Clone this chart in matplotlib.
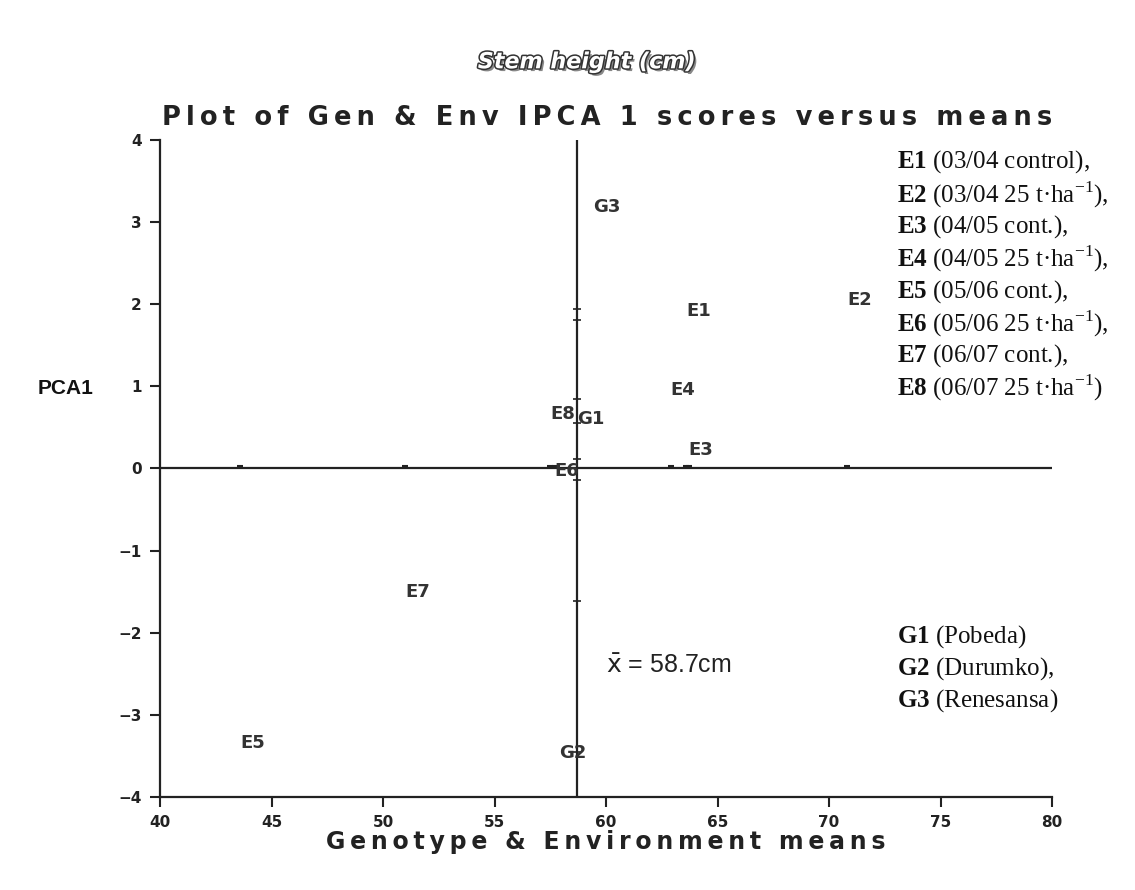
#!/usr/bin/env python3

import matplotlib
matplotlib.use("Agg")
import matplotlib.pyplot as plt
import matplotlib.patheffects as pe

# AMMI1 biplot: stem height means vs IPCA1 scores
env_names = ["E1", "E2", "E3", "E4", "E5", "E6", "E7", "E8"]
env_means = [63.6, 70.8, 63.7, 62.9, 43.6, 57.7, 51.0, 57.5]
env_ipca = [1.80, 1.94, 0.11, 0.85, -3.45, -0.14, -1.62, 0.55]

gen_names = ["G1", "G2", "G3"]
gen_means = [58.7, 57.9, 59.4]
gen_ipca = [0.49, -3.57, 3.07]

grand_mean = 58.7

env_legend = ["(03/04 control),", "(03/04 25 t·ha$^{-1}$),", "(04/05 cont.),",
              "(04/05 25 t·ha$^{-1}$),", "(05/06 cont.),", "(05/06 25 t·ha$^{-1}$),",
              "(06/07 cont.),", "(06/07 25 t·ha$^{-1}$)"]
gen_legend = ["(Pobeda)", "(Durumko),", "(Renesansa)"]

plt.rcParams["mathtext.fontset"] = "custom"
plt.rcParams["mathtext.rm"] = "Liberation Serif"
plt.rcParams["mathtext.bf"] = "Liberation Serif:bold"

LINE = "#222222"
LABEL = "#333333"


def spaced(s):
    # the original uses wide letter spacing for its headings
    return "\u2009".join(s)


fig = plt.figure(figsize=(11.35, 8.9), dpi=100)
ax = fig.add_axes([0.141, 0.1045, 0.786, 0.7385])

ax.set_xlim(40, 80)
ax.set_ylim(-4, 4)
ax.set_xticks(range(40, 81, 5))
ax.set_yticks(range(-4, 5))

for side in ["top", "right"]:
    ax.spines[side].set_visible(False)
for side in ["left", "bottom"]:
    ax.spines[side].set_linewidth(1.6)
    ax.spines[side].set_color(LINE)
ax.tick_params(direction="out", length=7, width=1.5, color=LINE, labelsize=11, pad=6)
for lab in ax.get_xticklabels() + ax.get_yticklabels():
    lab.set_fontweight("heavy")
    lab.set_color(LINE)

# reference lines through grand mean and zero
ax.axvline(grand_mean, color=LINE, lw=1.6)
ax.axhline(0, color=LINE, lw=1.6)

# small projection dashes of environments on the reference lines
ax.plot(env_means, [0.03] * len(env_means), ls="none", marker="_", ms=5, mew=1.5, color=LINE)
ax.plot([grand_mean] * len(env_ipca), env_ipca, ls="none", marker="_", ms=6, mew=1.2, color=LINE)

for name, x, y in zip(env_names + gen_names, env_means + gen_means, env_ipca + gen_ipca):
    ax.text(x, y, name, ha="left", va="bottom", fontsize=13, fontweight="heavy",
            color=LABEL)

ax.text(60.0, -2.4, r"$\bar{\mathrm{x}}$ = 58.7cm", fontsize=18, family="Liberation Sans",
        color="#222222", va="center", ha="left", math_fontfamily="dejavusans")

ax.set_xlabel(spaced("Genotype & Environment means"), fontsize=17, fontweight="bold",
              color=LINE, labelpad=0)
ax.set_ylabel("PCA1", fontsize=15, fontweight="bold", family="Liberation Sans",
              rotation=0, color="#111111")
ax.yaxis.set_label_coords(-0.106, 0.607)

fig.text(0.535, 0.867, spaced("Plot of Gen & Env IPCA 1 scores versus means"), ha="center",
         va="center", fontsize=18.5, fontweight="bold", color=LINE)

fig.text(0.517, 0.93, "Stem height (cm)", ha="center", va="center", fontsize=16,
         fontweight="bold", style="italic", color="white",
         path_effects=[pe.withSimplePatchShadow(offset=(2, -2), shadow_rgbFace="#888888", alpha=1),
                       pe.withStroke(linewidth=2.2, foreground="#333333")])

# legend text on the right
for i, (name, desc) in enumerate(zip(env_names, env_legend)):
    fig.text(0.790, 1 - (162 + i * 32.3) / 890, r"$\mathbf{%s}$ %s" % (name, desc),
             fontsize=18, family="Liberation Serif", va="center", ha="left", color="#111111")
for i, (name, desc) in enumerate(zip(gen_names, gen_legend)):
    fig.text(0.790, 1 - (637 + i * 32) / 890, r"$\mathbf{%s}$ %s" % (name, desc),
             fontsize=18, family="Liberation Serif", va="center", ha="left", color="#111111")

fig.savefig("out.png", dpi=100, facecolor="white")
